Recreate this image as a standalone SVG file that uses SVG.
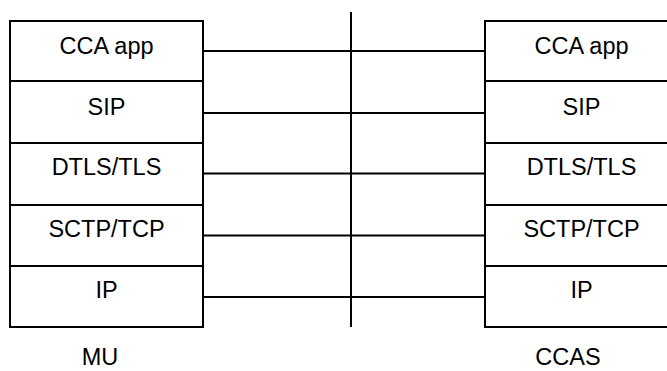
<svg xmlns="http://www.w3.org/2000/svg" width="667" height="371" viewBox="0 0 667 371">
<style>
.box{fill:#fff;stroke:#000;stroke-width:2}
.ln{stroke:#000;stroke-width:2;fill:none}
text{font-family:"Liberation Sans",Arial,sans-serif;font-size:23.5px;fill:#000;text-anchor:middle}
</style>
<rect width="667" height="371" fill="#fff"/>
<g id="mu">
<rect class="box" x="10" y="21" width="193" height="306"/>
<line class="ln" x1="10" y1="81" x2="203" y2="81"/>
<line class="ln" x1="10" y1="143" x2="203" y2="143"/>
<line class="ln" x1="10" y1="205" x2="203" y2="205"/>
<line class="ln" x1="10" y1="266" x2="203" y2="266"/>
<text x="106.5" y="53.5">CCA app</text>
<text x="106.5" y="114.5">SIP</text>
<text x="106.5" y="175">DTLS/TLS</text>
<text x="106.5" y="237">SCTP/TCP</text>
<text x="106.5" y="298">IP</text>
<text x="100" y="365">MU</text>
</g>
<g id="ccas">
<rect class="box" x="485" y="21" width="193" height="306"/>
<line class="ln" x1="485" y1="81" x2="678" y2="81"/>
<line class="ln" x1="485" y1="143" x2="678" y2="143"/>
<line class="ln" x1="485" y1="205" x2="678" y2="205"/>
<line class="ln" x1="485" y1="266" x2="678" y2="266"/>
<text x="581.5" y="53.5">CCA app</text>
<text x="581.5" y="114.5">SIP</text>
<text x="581.5" y="175">DTLS/TLS</text>
<text x="581.5" y="237">SCTP/TCP</text>
<text x="581.5" y="298">IP</text>
<text x="568" y="365">CCAS</text>
</g>
<g id="connectors">
<line class="ln" x1="351" y1="12" x2="351" y2="327"/>
<line class="ln" x1="203" y1="51" x2="485" y2="51"/>
<line class="ln" x1="203" y1="113" x2="485" y2="113"/>
<line class="ln" x1="203" y1="173.5" x2="485" y2="173.5"/>
<line class="ln" x1="203" y1="235.5" x2="485" y2="235.5"/>
<line class="ln" x1="203" y1="297" x2="485" y2="297"/>
</g>
</svg>
